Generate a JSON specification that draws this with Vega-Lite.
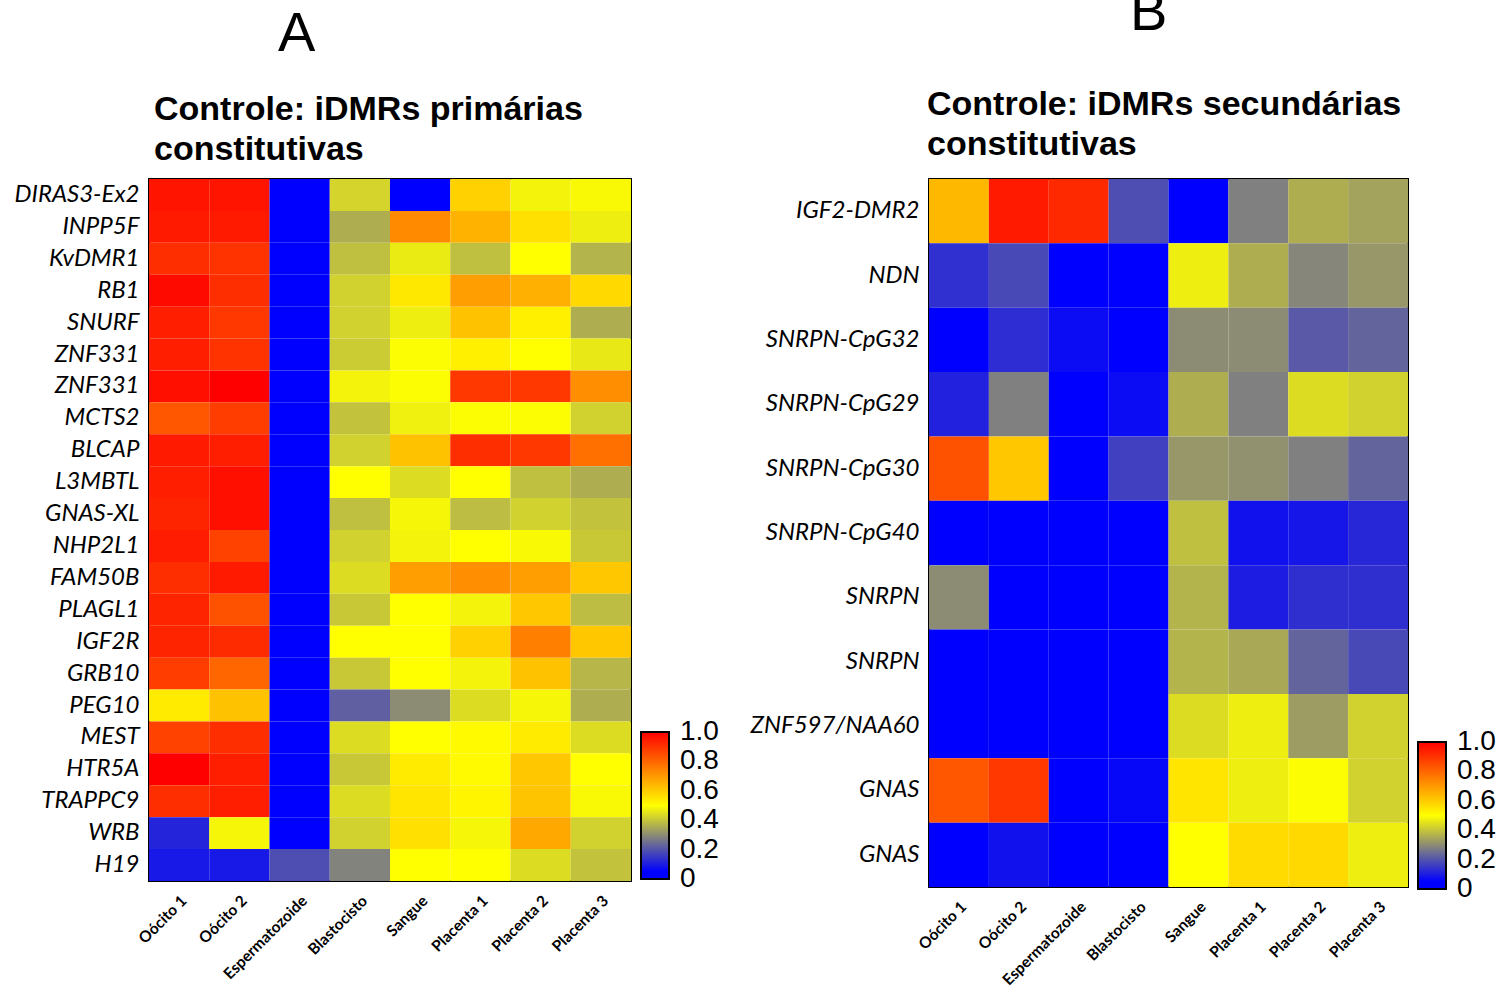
{
  "$schema": "https://vega.github.io/schema/vega-lite/v6.json",
  "background": "white",
  "padding": {"left": 13, "top": -15, "right": 0, "bottom": 5},
  "spacing": 30,
  "config": {
    "view": {"stroke": "black", "strokeWidth": 2},
    "axisY": {"labelFont": "Lato", "labelFontStyle": "italic", "labelFontSize": 24, "labelColor": "black", "ticks": false, "domain": false, "labelPadding": 10, "title": null},
    "axisX": {"labelFont": "Lato", "labelFontWeight": "bold", "labelFontSize": 15.5, "labelColor": "black", "labelAngle": -45, "ticks": false, "domain": false, "labelPadding": 12, "title": null},
    "legend": {"orient": "none", "direction": "vertical", "gradientLength": 147, "gradientThickness": 28, "gradientStrokeColor": "black", "gradientStrokeWidth": 2, "labelFont": "Liberation Sans", "labelFontSize": 28, "labelColor": "black", "labelOverlap": false, "labelBaseline": "middle", "gradientLabelOffset": 11, "title": null}
  },
  "datasets": {
    "a": [
      {"r": "DIRAS3-Ex2", "Oócito 1": 0.96, "Oócito 2": 0.96, "Espermatozoide": 0, "Blastocisto": 0.425, "Sangue": 0, "Placenta 1": 0.59, "Placenta 2": 0.48, "Placenta 3": 0.49},
      {"r": "INPP5F", "Oócito 1": 0.95, "Oócito 2": 0.95, "Espermatozoide": 0, "Blastocisto": 0.36, "Sangue": 0.73, "Placenta 1": 0.65, "Placenta 2": 0.56, "Placenta 3": 0.47},
      {"r": "KvDMR1", "Oócito 1": 0.91, "Oócito 2": 0.9, "Espermatozoide": 0, "Blastocisto": 0.39, "Sangue": 0.465, "Placenta 1": 0.39, "Placenta 2": 0.5, "Placenta 3": 0.37},
      {"r": "RB1", "Oócito 1": 0.98, "Oócito 2": 0.91, "Espermatozoide": 0, "Blastocisto": 0.42, "Sangue": 0.545, "Placenta 1": 0.69, "Placenta 2": 0.655, "Placenta 3": 0.575},
      {"r": "SNURF", "Oócito 1": 0.94, "Oócito 2": 0.89, "Espermatozoide": 0, "Blastocisto": 0.42, "Sangue": 0.47, "Placenta 1": 0.62, "Placenta 2": 0.53, "Placenta 3": 0.36},
      {"r": "ZNF331", "Oócito 1": 0.94, "Oócito 2": 0.9, "Espermatozoide": 0, "Blastocisto": 0.41, "Sangue": 0.495, "Placenta 1": 0.53, "Placenta 2": 0.5, "Placenta 3": 0.46},
      {"r": "ZNF331\u200b", "Oócito 1": 0.97, "Oócito 2": 1, "Espermatozoide": 0, "Blastocisto": 0.48, "Sangue": 0.495, "Placenta 1": 0.89, "Placenta 2": 0.89, "Placenta 3": 0.72},
      {"r": "MCTS2", "Oócito 1": 0.83, "Oócito 2": 0.88, "Espermatozoide": 0, "Blastocisto": 0.395, "Sangue": 0.475, "Placenta 1": 0.495, "Placenta 2": 0.495, "Placenta 3": 0.42},
      {"r": "BLCAP", "Oócito 1": 0.95, "Oócito 2": 0.94, "Espermatozoide": 0, "Blastocisto": 0.42, "Sangue": 0.62, "Placenta 1": 0.91, "Placenta 2": 0.89, "Placenta 3": 0.78},
      {"r": "L3MBTL", "Oócito 1": 0.94, "Oócito 2": 0.97, "Espermatozoide": 0, "Blastocisto": 0.5, "Sangue": 0.44, "Placenta 1": 0.5, "Placenta 2": 0.39, "Placenta 3": 0.36},
      {"r": "GNAS-XL", "Oócito 1": 0.93, "Oócito 2": 0.97, "Espermatozoide": 0, "Blastocisto": 0.39, "Sangue": 0.485, "Placenta 1": 0.385, "Placenta 2": 0.42, "Placenta 3": 0.395},
      {"r": "NHP2L1", "Oócito 1": 0.945, "Oócito 2": 0.87, "Espermatozoide": 0, "Blastocisto": 0.42, "Sangue": 0.48, "Placenta 1": 0.5, "Placenta 2": 0.49, "Placenta 3": 0.405},
      {"r": "FAM50B", "Oócito 1": 0.91, "Oócito 2": 0.95, "Espermatozoide": 0, "Blastocisto": 0.44, "Sangue": 0.69, "Placenta 1": 0.72, "Placenta 2": 0.69, "Placenta 3": 0.61},
      {"r": "PLAGL1", "Oócito 1": 0.93, "Oócito 2": 0.84, "Espermatozoide": 0, "Blastocisto": 0.405, "Sangue": 0.5, "Placenta 1": 0.48, "Placenta 2": 0.61, "Placenta 3": 0.385},
      {"r": "IGF2R", "Oócito 1": 0.93, "Oócito 2": 0.915, "Espermatozoide": 0, "Blastocisto": 0.5, "Sangue": 0.5, "Placenta 1": 0.59, "Placenta 2": 0.75, "Placenta 3": 0.61},
      {"r": "GRB10", "Oócito 1": 0.88, "Oócito 2": 0.8, "Espermatozoide": 0, "Blastocisto": 0.405, "Sangue": 0.5, "Placenta 1": 0.48, "Placenta 2": 0.62, "Placenta 3": 0.375},
      {"r": "PEG10", "Oócito 1": 0.54, "Oócito 2": 0.62, "Espermatozoide": 0.01, "Blastocisto": 0.22, "Sangue": 0.3, "Placenta 1": 0.44, "Placenta 2": 0.485, "Placenta 3": 0.36},
      {"r": "MEST", "Oócito 1": 0.87, "Oócito 2": 0.91, "Espermatozoide": 0.01, "Blastocisto": 0.44, "Sangue": 0.5, "Placenta 1": 0.51, "Placenta 2": 0.54, "Placenta 3": 0.44},
      {"r": "HTR5A", "Oócito 1": 1, "Oócito 2": 0.94, "Espermatozoide": 0.01, "Blastocisto": 0.405, "Sangue": 0.54, "Placenta 1": 0.51, "Placenta 2": 0.61, "Placenta 3": 0.5},
      {"r": "TRAPPC9", "Oócito 1": 0.91, "Oócito 2": 0.94, "Espermatozoide": 0.01, "Blastocisto": 0.44, "Sangue": 0.55, "Placenta 1": 0.52, "Placenta 2": 0.615, "Placenta 3": 0.49},
      {"r": "WRB", "Oócito 1": 0.115, "Oócito 2": 0.485, "Espermatozoide": 0.01, "Blastocisto": 0.42, "Sangue": 0.56, "Placenta 1": 0.485, "Placenta 2": 0.67, "Placenta 3": 0.42},
      {"r": "H19", "Oócito 1": 0.094, "Oócito 2": 0.094, "Espermatozoide": 0.19, "Blastocisto": 0.285, "Sangue": 0.5, "Placenta 1": 0.5, "Placenta 2": 0.44, "Placenta 3": 0.395}
    ],
    "b": [
      {"r": "IGF2-DMR2", "Oócito 1": 0.64, "Oócito 2": 0.95, "Espermatozoide": 0.92, "Blastocisto": 0.19, "Sangue": 0, "Placenta 1": 0.28, "Placenta 2": 0.36, "Placenta 3": 0.34},
      {"r": "NDN", "Oócito 1": 0.136, "Oócito 2": 0.18, "Espermatozoide": 0, "Blastocisto": 0.01, "Sangue": 0.47, "Placenta 1": 0.36, "Placenta 2": 0.29, "Placenta 3": 0.32},
      {"r": "SNRPN-CpG32", "Oócito 1": 0, "Oócito 2": 0.13, "Espermatozoide": 0.07, "Blastocisto": 0.01, "Sangue": 0.3, "Placenta 1": 0.3, "Placenta 2": 0.21, "Placenta 3": 0.23},
      {"r": "SNRPN-CpG29", "Oócito 1": 0.11, "Oócito 2": 0.28, "Espermatozoide": 0, "Blastocisto": 0.07, "Sangue": 0.36, "Placenta 1": 0.28, "Placenta 2": 0.44, "Placenta 3": 0.42},
      {"r": "SNRPN-CpG30", "Oócito 1": 0.84, "Oócito 2": 0.61, "Espermatozoide": 0, "Blastocisto": 0.165, "Sangue": 0.32, "Placenta 1": 0.31, "Placenta 2": 0.28, "Placenta 3": 0.23},
      {"r": "SNRPN-CpG40", "Oócito 1": 0, "Oócito 2": 0, "Espermatozoide": 0, "Blastocisto": 0, "Sangue": 0.39, "Placenta 1": 0.08, "Placenta 2": 0.09, "Placenta 3": 0.12},
      {"r": "SNRPN", "Oócito 1": 0.3, "Oócito 2": 0, "Espermatozoide": 0, "Blastocisto": 0.01, "Sangue": 0.37, "Placenta 1": 0.1, "Placenta 2": 0.135, "Placenta 3": 0.135},
      {"r": "SNRPN\u200b", "Oócito 1": 0.01, "Oócito 2": 0.01, "Espermatozoide": 0.02, "Blastocisto": 0.01, "Sangue": 0.37, "Placenta 1": 0.35, "Placenta 2": 0.23, "Placenta 3": 0.18},
      {"r": "ZNF597/NAA60", "Oócito 1": 0.01, "Oócito 2": 0.02, "Espermatozoide": 0.01, "Blastocisto": 0.01, "Sangue": 0.44, "Placenta 1": 0.47, "Placenta 2": 0.33, "Placenta 3": 0.42},
      {"r": "GNAS", "Oócito 1": 0.83, "Oócito 2": 0.89, "Espermatozoide": 0, "Blastocisto": 0.06, "Sangue": 0.55, "Placenta 1": 0.47, "Placenta 2": 0.495, "Placenta 3": 0.42},
      {"r": "GNAS\u200b", "Oócito 1": 0, "Oócito 2": 0.08, "Espermatozoide": 0, "Blastocisto": 0.01, "Sangue": 0.5, "Placenta 1": 0.57, "Placenta 2": 0.575, "Placenta 3": 0.47}
    ]
  },
  "hconcat": [
    {
      "title": {"text": "A", "font": "Liberation Sans", "fontSize": 56, "fontWeight": "normal", "color": "black", "anchor": "start", "dx": 265, "offset": 29},
      "vconcat": [
        {
          "data": {"name": "a"},
          "transform": [{"fold": ["Oócito 1", "Oócito 2", "Espermatozoide", "Blastocisto", "Sangue", "Placenta 1", "Placenta 2", "Placenta 3"], "as": ["c", "v"]}],
          "width": 482,
          "height": 702,
          "title": {"text": ["Controle: iDMRs primárias", "constitutivas"], "font": "Liberation Sans", "fontSize": 34, "fontWeight": "bold", "color": "black", "anchor": "start", "frame": "group", "dx": 5, "lineHeight": 40, "offset": 12},
          "mark": {"type": "rect"},
          "encoding": {
            "x": {"field": "c", "type": "nominal", "sort": ["Oócito 1", "Oócito 2", "Espermatozoide", "Blastocisto", "Sangue", "Placenta 1", "Placenta 2", "Placenta 3"], "scale": {"paddingInner": 0, "paddingOuter": 0}},
            "y": {"field": "r", "type": "nominal", "sort": ["DIRAS3-Ex2", "INPP5F", "KvDMR1", "RB1", "SNURF", "ZNF331", "ZNF331\u200b", "MCTS2", "BLCAP", "L3MBTL", "GNAS-XL", "NHP2L1", "FAM50B", "PLAGL1", "IGF2R", "GRB10", "PEG10", "MEST", "HTR5A", "TRAPPC9", "WRB", "H19"], "scale": {"paddingInner": 0, "paddingOuter": 0}},
            "color": {"field": "v", "type": "quantitative", "scale": {"domain": [0, 0.05, 0.28, 0.5, 1], "range": ["#0000ff", "#0000ff", "#808080", "#ffff00", "#ff0000"], "interpolate": "rgb"}, "legend": {"values": [0, 0.2, 0.4, 0.6, 0.8, 1], "labelExpr": "datum.value == 0 ? '0' : format(datum.value, '.1f')", "labelOffset": 11, "legendX": 492, "legendY": 553, "encode": {"labels": {"update": {"baseline": {"value": "middle"}}}}}}
          }
        }
      ]
    },
    {
      "title": {"text": "B", "font": "Liberation Sans", "fontSize": 56, "fontWeight": "normal", "color": "black", "anchor": "start", "dx": 381, "offset": 45},
      "vconcat": [
        {
          "data": {"name": "b"},
          "transform": [{"fold": ["Oócito 1", "Oócito 2", "Espermatozoide", "Blastocisto", "Sangue", "Placenta 1", "Placenta 2", "Placenta 3"], "as": ["c", "v"]}],
          "width": 479,
          "height": 708,
          "title": {"text": ["Controle: iDMRs secundárias", "constitutivas"], "font": "Liberation Sans", "fontSize": 34, "fontWeight": "bold", "color": "black", "anchor": "start", "frame": "group", "dx": -2, "lineHeight": 40, "offset": 17},
          "mark": {"type": "rect"},
          "encoding": {
            "x": {"field": "c", "type": "nominal", "sort": ["Oócito 1", "Oócito 2", "Espermatozoide", "Blastocisto", "Sangue", "Placenta 1", "Placenta 2", "Placenta 3"], "scale": {"paddingInner": 0, "paddingOuter": 0}},
            "y": {"field": "r", "type": "nominal", "sort": ["IGF2-DMR2", "NDN", "SNRPN-CpG32", "SNRPN-CpG29", "SNRPN-CpG30", "SNRPN-CpG40", "SNRPN", "SNRPN\u200b", "ZNF597/NAA60", "GNAS", "GNAS\u200b"], "scale": {"paddingInner": 0, "paddingOuter": 0}},
            "color": {"field": "v", "type": "quantitative", "scale": {"domain": [0, 0.05, 0.28, 0.5, 1], "range": ["#0000ff", "#0000ff", "#808080", "#ffff00", "#ff0000"], "interpolate": "rgb"}, "legend": {"values": [0, 0.2, 0.4, 0.6, 0.8, 1], "labelExpr": "datum.value == 0 ? '0' : format(datum.value, '.1f')", "labelOffset": 11, "legendX": 489, "legendY": 563, "encode": {"labels": {"update": {"baseline": {"value": "middle"}}}}}}
          }
        }
      ]
    }
  ],
  "resolve": {"scale": {"color": "independent"}}
}
